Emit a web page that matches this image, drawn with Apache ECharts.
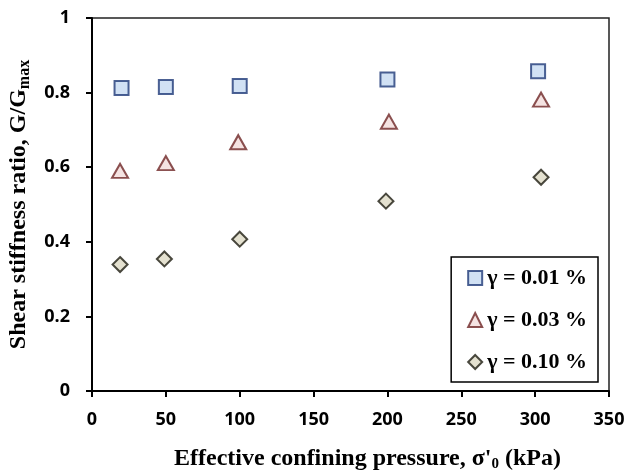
<!DOCTYPE html>
<html>
<head>
<meta charset="utf-8">
<script src="https://cdn.jsdelivr.net/npm/echarts@6/dist/echarts.min.js"></script>
<style>
  html, body { margin: 0; padding: 0; background: #fff; }
  #chart { width: 629px; height: 471px; }
</style>
</head>
<body>
<div id="chart"></div>
<script>
// data
const seriesNames = ['γ = 0.01 %', 'γ = 0.03 %', 'γ = 0.10 %'];
const xStrain001 = [20, 50, 100, 200, 302];
const yStrain001 = [0.812, 0.815, 0.818, 0.835, 0.857];
const xStrain003 = [19, 50, 99, 201, 304];
const yStrain003 = [0.590, 0.611, 0.667, 0.722, 0.781];
const xStrain010 = [19, 49, 100, 199, 304];
const yStrain010 = [0.339, 0.354, 0.407, 0.509, 0.573];

const serif = '"Liberation Serif", "DejaVu Serif", serif';
const sans = '"Open Sans", "Liberation Sans", sans-serif';

function pairs(xs, ys) {
  return xs.map((x, i) => [x, ys[i]]);
}

const chart = echarts.init(document.getElementById('chart'), null, { renderer: 'canvas' });

const option = {
  backgroundColor: '#ffffff',
  animation: false,
  grid: {
    left: 92, right: 20, top: 18, bottom: 80,
    containLabel: false,
    outerBoundsMode: 'none',
    show: true,
    borderColor: '#222',
    borderWidth: 1.5
  },
  legend: {
    orient: 'vertical',
    right: 31,
    bottom: 89,
    backgroundColor: '#fff',
    borderColor: '#000',
    borderWidth: 1.5,
    padding: [10, 11, 9, 16],
    itemGap: 20,
    itemWidth: 14,
    itemHeight: 14,
    textStyle: { fontFamily: serif, fontWeight: 'bold', fontSize: 22, color: '#000' },
    data: seriesNames
  },
  xAxis: {
    type: 'value',
    min: 0, max: 350, interval: 50,
    name: '{a|Effective confining pressure, σ\'}{b|0}{a| (kPa)}',
    nameLocation: 'middle',
    nameGap: 54,
    nameTextStyle: {
      padding: [0, 0, 0, 34],
      rich: {
        a: { fontFamily: serif, fontWeight: 'bold', fontSize: 24, color: '#000' },
        b: { fontFamily: serif, fontWeight: 'bold', fontSize: 15, color: '#000', padding: [12, 0, 0, 0] }
      }
    },
    axisLine: { show: true, lineStyle: { color: '#000', width: 2 } },
    axisTick: { show: true, inside: false, length: 6, lineStyle: { color: '#000', width: 2 } },
    axisLabel: { fontFamily: sans, fontWeight: 'bold', fontSize: 18, color: '#000', margin: 20 },
    splitLine: { show: false }
  },
  yAxis: {
    type: 'value',
    min: 0, max: 1, interval: 0.2,
    name: '{a|Shear stiffness ratio, G/G}{b|max}',
    nameLocation: 'middle',
    nameGap: 59,
    nameTextStyle: {
      rich: {
        a: { fontFamily: serif, fontWeight: 'bold', fontSize: 24, color: '#000' },
        b: { fontFamily: serif, fontWeight: 'bold', fontSize: 16, color: '#000', padding: [12, 0, 0, 0] }
      }
    },
    axisLine: { show: true, lineStyle: { color: '#000', width: 2 } },
    axisTick: { show: true, inside: false, length: 6, lineStyle: { color: '#000', width: 2 } },
    axisLabel: { fontFamily: sans, fontWeight: 'bold', fontSize: 18, color: '#000', margin: 22 },
    splitLine: { show: false }
  },
  series: [
    {
      name: seriesNames[0],
      type: 'scatter',
      symbol: 'rect',
      symbolSize: 14,
      itemStyle: { color: '#c6d9f1', borderColor: '#1f3a78', borderWidth: 2 },
      data: pairs(xStrain001, yStrain001)
    },
    {
      name: seriesNames[1],
      type: 'scatter',
      symbol: 'triangle',
      symbolSize: [16, 14],
      itemStyle: { color: '#f2dcdb', borderColor: '#6e2525', borderWidth: 2 },
      data: pairs(xStrain003, yStrain003)
    },
    {
      name: seriesNames[2],
      type: 'scatter',
      symbol: 'diamond',
      symbolSize: 15,
      itemStyle: { color: '#ddd9c4', borderColor: '#1d1b10', borderWidth: 2 },
      data: pairs(xStrain010, yStrain010)
    }
  ]
};

chart.setOption(option);
</script>
</body>
</html>
